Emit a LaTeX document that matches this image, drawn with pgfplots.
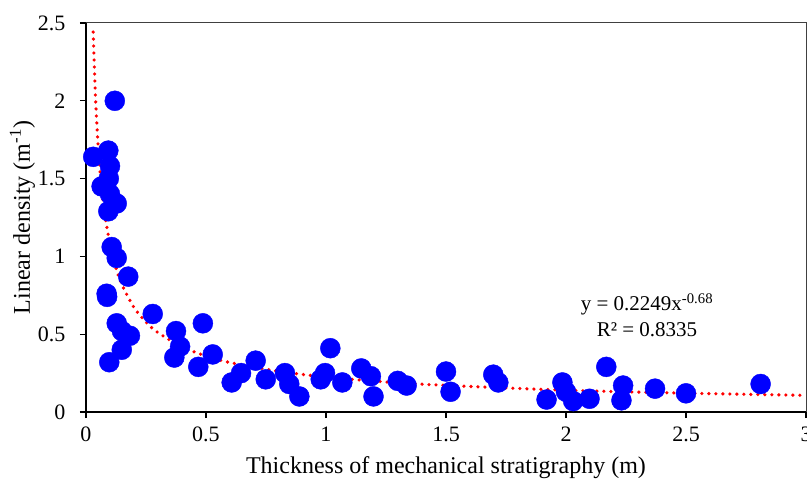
\documentclass[border=0pt]{standalone}
\usepackage{fontspec}
\setmainfont{Liberation Serif}
\usepackage{pgfplots}
\pgfplotsset{compat=1.18}
\begin{document}
\begin{tikzpicture}
\begin{axis}[
  at={(0,0)}, anchor=south west,
  scale only axis, width=720pt, height=389pt,
  xmin=0, xmax=3, ymin=0, ymax=2.5,
  xtick={0,0.5,1,1.5,2,2.5,3},
  ytick={0,0.5,1,1.5,2,2.5},
  axis lines*=left,
  axis line style={black, line width=1.6pt},
  tick align=outside,
  major tick length=6pt,
  tick style={black, line width=1.2pt},
  /pgf/number format/assume math mode=true,
  tick label style={font=\fontsize{22}{26}\selectfont},
  yticklabel style={xshift=-11pt},
  xticklabel style={yshift=-5pt},
  xlabel={Thickness of mechanical stratigraphy (m)},
  ylabel={Linear density (m\textsuperscript{-1})},
  label style={font=\fontsize{24}{28}\selectfont},
  x label style={at={(axis description cs:0.5,0)}, anchor=base, yshift=-61pt},
  y label style={at={(axis description cs:0,0.5)}, anchor=base, yshift=56pt},
  clip=false,
]
\addplot[only marks, mark=*, mark size=10pt, color=blue, fill=blue] coordinates {
(0.12,2.00) (0.03,1.64) (0.093,1.68) (0.10,1.58) (0.095,1.50) (0.065,1.45)
(0.10,1.40) (0.128,1.34) (0.093,1.29) (0.107,1.06) (0.128,0.99) (0.176,0.87)
(0.086,0.76) (0.088,0.74) (0.278,0.63) (0.128,0.57) (0.15,0.52) (0.183,0.49)
(0.149,0.40) (0.097,0.32) (0.375,0.52) (0.392,0.42) (0.368,0.35) (0.487,0.57)
(0.468,0.29) (0.528,0.37) (0.607,0.19) (0.646,0.25) (0.707,0.33) (0.749,0.21)
(0.829,0.25) (0.847,0.18) (0.889,0.10) (0.978,0.21) (0.996,0.25) (1.018,0.41)
(1.068,0.19) (1.147,0.28) (1.187,0.23) (1.198,0.10) (1.299,0.20) (1.336,0.17)
(1.50,0.26) (1.519,0.13) (1.697,0.24) (1.718,0.19) (1.919,0.08) (1.985,0.19)
(2.0,0.13) (2.03,0.07) (2.098,0.085) (2.168,0.29) (2.238,0.17) (2.231,0.075)
(2.371,0.15) (2.50,0.12) (2.811,0.18)
};
\addplot[red, smooth, line width=3.6pt, line cap=round, dash pattern=on 0pt off 7pt] coordinates {
(0.03,2.442) (0.04,2.008) (0.05,1.725) (0.06,1.523) (0.07,1.372) (0.08,1.253)
(0.10,1.077) (0.12,0.951) (0.15,0.817) (0.2,0.672) (0.25,0.578) (0.3,0.510)
(0.4,0.419) (0.5,0.360) (0.6,0.318) (0.8,0.262) (1.0,0.225) (1.25,0.193)
(1.5,0.171) (2.0,0.140) (2.5,0.121) (3.0,0.107)
};
\draw[black!75, line width=1pt] (rel axis cs:0,1) -- (rel axis cs:1,1) -- (rel axis cs:1,0);
\node[anchor=base, font=\fontsize{21}{25}\selectfont] at (axis cs:2.3375,0.650) {y = 0.2249x\textsuperscript{-0.68}};
\node[anchor=base, font=\fontsize{21}{25}\selectfont] at (axis cs:2.3375,0.488) {R² = 0.8335};
\end{axis}
\pgfresetboundingbox
\useasboundingbox (-86pt,-70pt) rectangle (721pt,412pt);
\end{tikzpicture}
\end{document}
